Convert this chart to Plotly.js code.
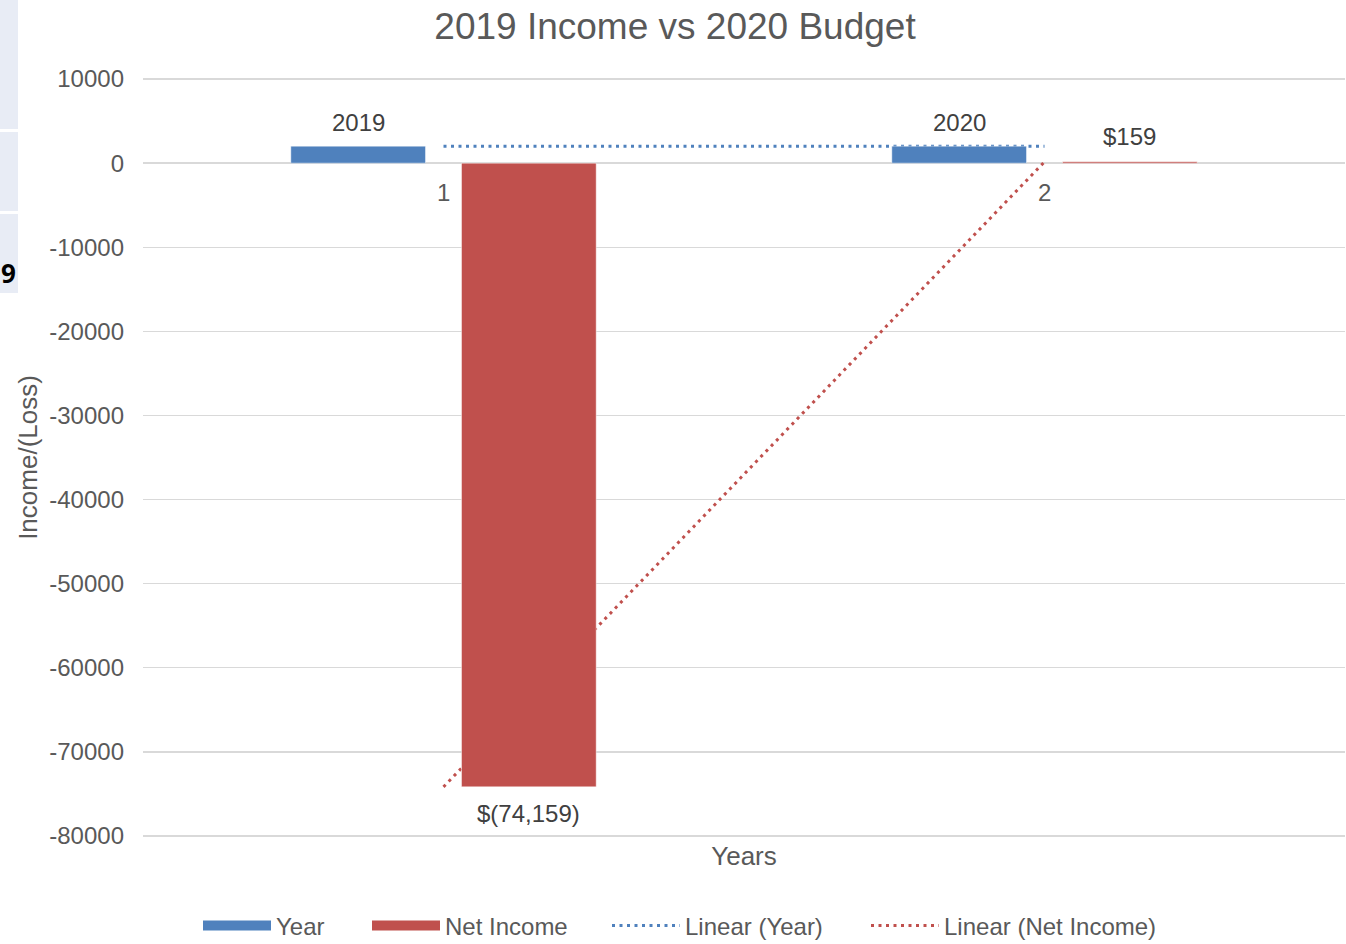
<!DOCTYPE html>
<html><head><meta charset="utf-8">
<script src="https://cdn.plot.ly/plotly-3.0.1.min.js"></script>
<style>html,body{margin:0;padding:0;background:#fff}#chart{width:1346px;height:944px}</style>
</head><body><div id="chart"></div>
<script>
// ---- data ----
const periods = [1, 2];
const periodLabels = ['1', '2'];
const yearValues = [2019, 2020];
const netIncome = [-74159, 159];
const yearLabels = ['2019', '2020'];
const netLabels = ['$(74,159)', '$159'];
const yTickVals = [10000, 0, -10000, -20000, -30000, -40000, -50000, -60000, -70000, -80000];

// ---- helpers ----
function linearFit(xs, ys) {
  const n = xs.length;
  const mx = xs.reduce((a, b) => a + b, 0) / n;
  const my = ys.reduce((a, b) => a + b, 0) / n;
  let sxy = 0, sxx = 0;
  for (let i = 0; i < n; i++) { sxy += (xs[i] - mx) * (ys[i] - my); sxx += (xs[i] - mx) ** 2; }
  const b = sxy / sxx, a = my - b * mx;
  return xs.map(x => a + b * x);
}

const FONT = 'Liberation Sans, Arial, sans-serif';
const GRAY = '#595959';
const DARK = '#404040';
const BLUE = '#4F81BD';
const RED = '#C0504D';
const BARGAP = 0.432;
const GROUPGAP = 0.211;
const barOffset = (1 - BARGAP) / 4;

// plot area in pixels (slightly padded so the end gridlines are drawn)
const PL = 143, PR = 1345, PT = 77, PB = 838;
const W = 1346, H = 944;
const px = x => (x - PL) / (PR - PL);
const py = y => (PB - y) / (PB - PT);

const trendYear = linearFit(periods, yearValues);
const trendNet = linearFit(periods, netIncome);

const dotDash = '3px,4.5px';

const data = [
  { type: 'scatter', mode: 'lines', name: 'Linear (Year)', x: periods, y: trendYear, legend: 'legend3',
    xaxis: 'x', yaxis: 'y', line: { color: BLUE, width: 3, dash: dotDash }, hoverinfo: 'skip' },
  { type: 'scatter', mode: 'lines', name: 'Linear (Net Income)', x: periods, y: trendNet, legend: 'legend4',
    xaxis: 'x', yaxis: 'y', line: { color: RED, width: 3, dash: dotDash }, hoverinfo: 'skip' },
  // legend swatches for the bar series
  { type: 'scatter', mode: 'lines', name: 'Year', x: [null], y: [null], xaxis: 'x', yaxis: 'y', legend: 'legend',
    line: { color: BLUE, width: 13 }, hoverinfo: 'skip' },
  { type: 'scatter', mode: 'lines', name: 'Net Income', x: [null], y: [null], xaxis: 'x', yaxis: 'y', legend: 'legend2',
    line: { color: RED, width: 13 }, hoverinfo: 'skip' },
  // bars (on overlay axes so they sit above the trendlines)
  { type: 'bar', name: 'Year', x: periods, y: yearValues, xaxis: 'x2', yaxis: 'y2', showlegend: false,
    marker: { color: BLUE, line: { color: 'rgba(255,255,255,0.45)', width: 1 } } },
  { type: 'bar', name: 'Net Income', x: periods, y: netIncome, xaxis: 'x2', yaxis: 'y2', showlegend: false,
    marker: { color: RED, line: { color: 'rgba(255,255,255,0.45)', width: 1 } } }
];

const annotations = [];
periods.forEach((p, i) => {
  annotations.push({ x: p - barOffset, y: yearValues[i], xref: 'x', yref: 'y', text: yearLabels[i],
    showarrow: false, yanchor: 'middle', yshift: 24, font: { family: FONT, size: 24, color: DARK } });
  const neg = netIncome[i] < 0;
  annotations.push({ x: p + barOffset, y: netIncome[i], xref: 'x', yref: 'y', text: netLabels[i],
    showarrow: false, yanchor: 'middle', yshift: neg ? -27 : 25, font: { family: FONT, size: 24, color: DARK } });
  annotations.push({ x: p, y: 0, xref: 'x', yref: 'y', text: periodLabels[i], showarrow: false,
    yanchor: 'middle', yshift: -29, font: { family: FONT, size: 24, color: GRAY } });
});
// cropped spreadsheet fragment at the left edge
annotations.push({ x: px(18), y: py(273), xref: 'paper', yref: 'paper', text: '<b>9</b>', showarrow: false,
  xanchor: 'right', yanchor: 'middle', font: { family: 'Open Sans, sans-serif', size: 26, color: '#000' } });

const panelColor = '#E8ECF5';
const shapes = [
  { type: 'rect', xref: 'paper', yref: 'paper', x0: px(0), x1: px(18), y0: py(0), y1: py(129), fillcolor: panelColor, line: { width: 0 }, layer: 'below' },
  { type: 'rect', xref: 'paper', yref: 'paper', x0: px(0), x1: px(18), y0: py(132), y1: py(211), fillcolor: panelColor, line: { width: 0 }, layer: 'below' },
  { type: 'rect', xref: 'paper', yref: 'paper', x0: px(0), x1: px(18), y0: py(214), y1: py(293), fillcolor: panelColor, line: { width: 0 }, layer: 'below' }
];

const yRange = [-80240, 10240];
const xRange = [0.5, 2.5];

function legendAt(xPix) {
  return { orientation: 'h', xref: 'container', yref: 'container', x: xPix / W, xanchor: 'left',
    y: 1 - 926 / H, yanchor: 'middle', itemwidth: 68, borderwidth: 0,
    font: { family: FONT, size: 24, color: GRAY }, bgcolor: 'rgba(0,0,0,0)' };
}

const layout = {
  width: W, height: H,
  margin: { l: PL, r: W - PR, t: PT, b: H - PB, pad: 0 },
  paper_bgcolor: '#fff', plot_bgcolor: '#fff',
  font: { family: FONT, color: GRAY },
  title: { text: '2019 Income vs 2020 Budget', font: { family: FONT, size: 37, color: GRAY },
    xref: 'container', x: 675 / W, xanchor: 'center', yref: 'container', y: 1 - 26 / H, yanchor: 'middle' },
  barmode: 'group', bargap: BARGAP, bargroupgap: GROUPGAP,
  xaxis: { range: xRange, showgrid: false, zeroline: false, showline: false, showticklabels: false, ticks: '',
    title: { text: 'Years', font: { family: FONT, size: 26, color: GRAY }, standoff: 8 }, automargin: false, fixedrange: true },
  yaxis: { range: yRange, tickvals: yTickVals, ticktext: yTickVals.map(String), showgrid: true, gridcolor: '#D9D9D9', gridwidth: 1.3,
    zeroline: true, zerolinecolor: '#D9D9D9', zerolinewidth: 1.3, showline: false, ticks: '',
    tickfont: { family: FONT, size: 24, color: GRAY }, ticklabelstandoff: 18,
    title: { text: 'Income/(Loss)', font: { family: FONT, size: 26, color: GRAY }, standoff: 4 }, automargin: false, fixedrange: true },
  xaxis2: { overlaying: 'x', range: xRange, visible: false, fixedrange: true },
  yaxis2: { overlaying: 'y', range: yRange, visible: false, fixedrange: true },
  showlegend: true,
  legend: legendAt(198),
  legend2: legendAt(367),
  legend3: legendAt(607),
  legend4: legendAt(866),
  annotations: annotations,
  shapes: shapes,
  hovermode: false
};

Plotly.newPlot('chart', data, layout, { displayModeBar: false, staticPlot: true });
</script>
</body></html>
